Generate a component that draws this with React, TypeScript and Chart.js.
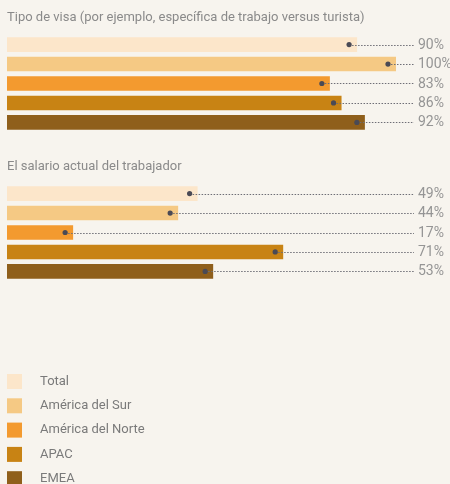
import React, { useEffect, useRef } from "react";
import { Chart, registerables } from "chart.js";

Chart.register(...registerables);

const categories = [
  "Tipo de visa (por ejemplo, específica de trabajo versus turista)",
  "El salario actual del trabajador",
];
const seriesNames = ["Total", "América del Sur", "América del Norte", "APAC", "EMEA"];
const totalValues = [90, 49];
const southAmericaValues = [100, 44];
const northAmericaValues = [83, 17];
const apacValues = [86, 71];
const emeaValues = [92, 53];
const seriesValues = [totalValues, southAmericaValues, northAmericaValues, apacValues, emeaValues];
const seriesColors = ["#fce6ca", "#f5c984", "#f39a2f", "#c88314", "#8f5f1b"];

const BG = "#f7f4ee";
const FONT = "Roboto, 'Noto Sans', sans-serif";

const overlayPlugin = {
  id: "overlay",
  afterDatasetsDraw(chart: any) {
    const ctx = chart.ctx;
    ctx.save();
    const meta0 = chart.getDatasetMeta(0);
    ctx.font = `13px ${FONT}`;
    ctx.fillStyle = "#8a8a8a";
    ctx.textAlign = "left";
    ctx.textBaseline = "alphabetic";
    categories.forEach((c, j) => {
      const el = meta0.data[j];
      if (!el) return;
      const top = el.y - el.height / 2;
      ctx.fillText(c, 7, top - 16);
    });
    const lineEnd = 414;
    seriesValues.forEach((vals, i) => {
      const meta = chart.getDatasetMeta(i);
      meta.data.forEach((el: any, j: number) => {
        const dotX = el.x - 8;
        const y = Math.round(el.y) + 0.5;
        ctx.strokeStyle = "#6e6e76";
        ctx.lineWidth = 1;
        ctx.setLineDash([1.5, 1.5]);
        ctx.beginPath();
        ctx.moveTo(dotX, y);
        ctx.lineTo(lineEnd, y);
        ctx.stroke();
        ctx.setLineDash([]);
        ctx.fillStyle = "#4a4a55";
        ctx.beginPath();
        ctx.arc(dotX, el.y, 2.6, 0, Math.PI * 2);
        ctx.fill();
        ctx.font = `14px ${FONT}`;
        ctx.fillStyle = "#959595";
        ctx.textBaseline = "middle";
        ctx.fillText(vals[j] + "%", 418, el.y + 0.5);
      });
    });
    ctx.textBaseline = "middle";
    ctx.font = `13px ${FONT}`;
    seriesNames.forEach((name, i) => {
      const top = 374 + i * 24.3;
      ctx.fillStyle = seriesColors[i];
      ctx.fillRect(7, top, 15, 15);
      ctx.fillStyle = "#7a7a7a";
      ctx.fillText(name, 40, top + 7.5);
    });
    ctx.restore();
  },
};

export default function App() {
  const ref = useRef<HTMLCanvasElement>(null);
  useEffect(() => {
    document.body.style.margin = "0";
    document.body.style.background = BG;
    const chart = new Chart(ref.current as HTMLCanvasElement, {
      type: "bar",
      data: {
        labels: categories,
        datasets: seriesNames.map((name, i) => ({
          label: name,
          data: seriesValues[i],
          backgroundColor: seriesColors[i],
          borderWidth: 0,
          categoryPercentage: 0.653,
          barPercentage: 0.75,
        })),
      },
      options: {
        indexAxis: "y",
        responsive: false,
        animation: false,
        layout: { padding: { left: 7, right: 54, top: 9, bottom: 177 } },
        scales: {
          x: { display: false, min: 0, max: 100 },
          y: { display: false },
        },
        plugins: {
          legend: { display: false },
          tooltip: { enabled: false },
        },
      },
      plugins: [overlayPlugin],
    });
    return () => chart.destroy();
  }, []);
  return (
    <div style={{ position: "absolute", left: 0, top: 0, width: 450, height: 484, background: BG }}>
      <canvas ref={ref} width={450} height={484} style={{ display: "block" }} />
    </div>
  );
}
